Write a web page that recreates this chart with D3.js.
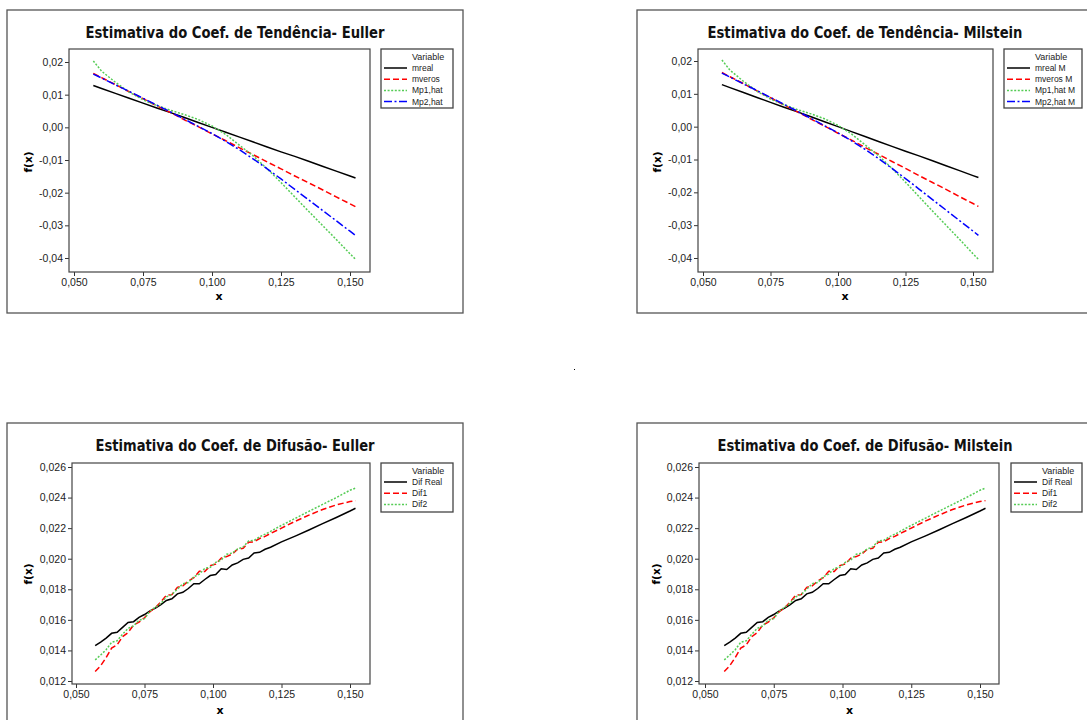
<!doctype html>
<head>
  <script src="https://cdnjs.cloudflare.com/ajax/libs/d3/7.8.5/d3.min.js"></script>
  <style>
    body { margin: 0; background: #fff; }
    svg { display: block; }
    .tick text { font-family: "Liberation Sans", Arial, sans-serif; font-size: 10.5px; fill: #222; }
    .tick line { stroke: #333; }
  </style>
</head>
<body>
  <svg width="1087" height="720"></svg>
  <script type="text/javascript">
    // tendency (drift) estimates, same values read for Euller and Milstein panels
    var tendX  = [0.057, 0.060, 0.065, 0.070, 0.075, 0.080, 0.085, 0.090, 0.095, 0.100, 0.105,
                  0.110, 0.115, 0.120, 0.125, 0.130, 0.135, 0.140, 0.145, 0.150, 0.152]
    var mreal  = [0.0128, 0.0119, 0.0104, 0.0089, 0.0074, 0.0059, 0.0045, 0.0030, 0.0015, 0.0000, -0.0015,
                  -0.0030, -0.0045, -0.0060, -0.0075, -0.0089, -0.0104, -0.0119, -0.0134, -0.0149, -0.0155]
    var mveros = [0.0165, 0.0152, 0.0131, 0.0109, 0.0088, 0.0066, 0.0045, 0.0023, 0.0002, -0.0020, -0.0041,
                  -0.0063, -0.0084, -0.0106, -0.0127, -0.0149, -0.0170, -0.0191, -0.0213, -0.0234, -0.0243]
    var mp1hat = [0.0203, 0.0172, 0.0138, 0.0108, 0.0084, 0.0067, 0.0052, 0.0039, 0.0024, 0.0004, -0.0022,
                  -0.0055, -0.0088, -0.0127, -0.0169, -0.0213, -0.0257, -0.0300, -0.0343, -0.0387, -0.0404]
    var mp2hat = [0.0163, 0.0151, 0.0130, 0.0110, 0.0089, 0.0068, 0.0047, 0.0025, 0.0003, -0.0019, -0.0043,
                  -0.0069, -0.0097, -0.0127, -0.0158, -0.0190, -0.0222, -0.0254, -0.0286, -0.0318, -0.0331]

    // diffusion estimates (noisy in the middle)
    var difX = [0.057, 0.059, 0.061, 0.063, 0.065, 0.067, 0.069, 0.071, 0.073, 0.075, 0.077, 0.079, 0.081,
                0.083, 0.085, 0.087, 0.089, 0.091, 0.093, 0.095, 0.097, 0.099, 0.101, 0.103, 0.105, 0.107,
                0.109, 0.111, 0.113, 0.115, 0.117, 0.119, 0.121, 0.125, 0.130, 0.135, 0.140, 0.145, 0.150, 0.152]
    var difReal = [0.01432, 0.01455, 0.01481, 0.01512, 0.01519, 0.01551, 0.01583, 0.01588, 0.01616, 0.01635,
                   0.01659, 0.01677, 0.01700, 0.01727, 0.01738, 0.01770, 0.01780, 0.01805, 0.01836, 0.01836,
                   0.01864, 0.01890, 0.01896, 0.01934, 0.01929, 0.01959, 0.01973, 0.01996, 0.02005, 0.02037,
                   0.02042, 0.02062, 0.02075, 0.02110, 0.02148, 0.02188, 0.02230, 0.02270, 0.02312, 0.02330]
    var dif1 = [0.01262, 0.01300, 0.01353, 0.01415, 0.01436, 0.01490, 0.01517, 0.01566, 0.01585, 0.01614,
                0.01653, 0.01680, 0.01718, 0.01762, 0.01765, 0.01813, 0.01822, 0.01854, 0.01876, 0.01918,
                0.01916, 0.01955, 0.01965, 0.02004, 0.02014, 0.02030, 0.02062, 0.02068, 0.02108, 0.02110,
                0.02132, 0.02146, 0.02165, 0.02200, 0.02245, 0.02285, 0.02322, 0.02352, 0.02374, 0.02380]
    var dif2 = [0.01338, 0.01370, 0.01405, 0.01453, 0.01463, 0.01506, 0.01544, 0.01560, 0.01598, 0.01608,
                0.01658, 0.01683, 0.01708, 0.01750, 0.01766, 0.01801, 0.01836, 0.01844, 0.01882, 0.01899,
                0.01937, 0.01944, 0.01976, 0.01991, 0.02029, 0.02037, 0.02064, 0.02077, 0.02116, 0.02120,
                0.02143, 0.02160, 0.02179, 0.02218, 0.02264, 0.02310, 0.02355, 0.02400, 0.02448, 0.02462]

    var xTicks = [0.050, 0.075, 0.100, 0.125, 0.150]
    var tendTicks = [0.02, 0.01, 0.00, -0.01, -0.02, -0.03, -0.04]
    var difTicks = [0.026, 0.024, 0.022, 0.020, 0.018, 0.016, 0.014, 0.012]

    var tendNamesE = ["mreal", "mveros", "Mp1,hat", "Mp2,hat"]
    var tendNamesM = ["mreal M", "mveros M", "Mp1,hat M", "Mp2,hat M"]
    var difNames = ["Dif Real", "Dif1", "Dif2"]

    var styles = [
      {color: "#000000", dash: null},
      {color: "#ff0000", dash: "6,3"},
      {color: "#55cc55", dash: "2,1.6"},
      {color: "#0000ff", dash: "8,2.5,2,2.5"}
    ]
    var difStyles = [styles[0], styles[1], styles[2]]

    var panels = [
      {box: [7, 10, 456, 303], plot: [69, 49, 370, 272], xr: [74, 350], yd: [0.02, -0.04], yr: [62, 258],
       fmt: ".2f", yTicks: tendTicks, title: "Estimativa do Coef. de Tendência- Euller", tx: 235, ty: 38, tw: 299,
       leg: [381, 49, 453, 108], names: tendNamesE, st: styles, xs: tendX, ys: [mreal, mveros, mp1hat, mp2hat],
       fx: 28, fy: 162, xlY: 300},
      {box: [637, 10, 452, 303], plot: [698, 49, 993, 272], xr: [703, 973], yd: [0.02, -0.04], yr: [61, 258],
       fmt: ".2f", yTicks: tendTicks, title: "Estimativa do Coef. de Tendência- Milstein", tx: 865, ty: 38, tw: 315,
       leg: [1004, 49, 1082, 108], names: tendNamesM, st: styles, xs: tendX, ys: [mreal, mveros, mp1hat, mp2hat],
       fx: 657, fy: 162, xlY: 300},
      {box: [7, 423, 456, 310], plot: [72, 463, 370, 684], xr: [76, 350], yd: [0.026, 0.012], yr: [467, 681],
       fmt: ".3f", yTicks: difTicks, title: "Estimativa do Coef. de Difusão- Euller", tx: 235, ty: 451, tw: 279,
       leg: [381, 463, 453, 512], names: difNames, st: difStyles, xs: difX, ys: [difReal, dif1, dif2],
       fx: 28, fy: 574, xlY: 714},
      {box: [637, 423, 452, 310], plot: [699, 463, 999, 684], xr: [705, 980], yd: [0.026, 0.012], yr: [467, 681],
       fmt: ".3f", yTicks: difTicks, title: "Estimativa do Coef. de Difusão- Milstein", tx: 865, ty: 451, tw: 295,
       leg: [1011, 463, 1082, 512], names: difNames, st: difStyles, xs: difX, ys: [difReal, dif1, dif2],
       fx: 656, fy: 574, xlY: 714}
    ]

    var svg = d3.select("svg")

    function comma(f) {
      var fm = d3.format(f)
      return d => fm(d).replace("\u2212", "-").replace(".", ",")
    }

    panels.forEach(p => {
      var g = svg.append("g")
      g.append("rect")
        .attr("x", p.box[0]).attr("y", p.box[1]).attr("width", p.box[2]).attr("height", p.box[3])
        .style("fill", "none").style("stroke", "#555").style("stroke-width", "1.3px")

      var x = d3.scaleLinear().domain([0.05, 0.15]).range(p.xr)
      var y = d3.scaleLinear().domain(p.yd).range(p.yr)

      g.append("text").text(p.title)
        .attr("x", p.tx).attr("y", p.ty).attr("text-anchor", "middle")
        .attr("textLength", p.tw).attr("lengthAdjust", "spacingAndGlyphs")
        .style("font-family", "'DejaVu Sans', Verdana, sans-serif").style("font-weight", "bold")
        .style("font-size", "15px").style("fill", "#111")

      var ax = g.append("g").attr("transform", "translate(0," + p.plot[3] + ")")
        .call(d3.axisBottom(x).tickValues(xTicks).tickSize(4).tickPadding(3).tickFormat(comma(".3f")))
      ax.select(".domain").remove()
      var ay = g.append("g").attr("transform", "translate(" + p.plot[0] + ",0)")
        .call(d3.axisLeft(y).tickValues(p.yTicks).tickSize(4).tickPadding(2).tickFormat(comma(p.fmt)))
      ay.select(".domain").remove()

      g.append("rect")
        .attr("x", p.plot[0]).attr("y", p.plot[1])
        .attr("width", p.plot[2] - p.plot[0]).attr("height", p.plot[3] - p.plot[1])
        .style("fill", "none").style("stroke", "#444").style("stroke-width", "1.2px")

      g.append("text").text("x")
        .attr("x", (p.xr[0] + p.xr[1]) / 2 + 7).attr("y", p.xlY).attr("text-anchor", "middle")
        .style("font-family", "'DejaVu Sans', sans-serif").style("font-weight", "bold").style("font-size", "11px")
      g.append("text").text("f(x)")
        .attr("transform", "translate(" + (p.fx + 4) + "," + p.fy + ") rotate(-90)").attr("text-anchor", "middle")
        .style("font-family", "'DejaVu Sans', sans-serif").style("font-weight", "bold").style("font-size", "10.5px")

      var line = d3.line().x(d => x(d[0])).y(d => y(d[1]))
      p.ys.forEach((ser, i) => {
        g.append("path")
          .datum(p.xs.map((v, k) => [v, ser[k]]))
          .attr("d", line)
          .style("fill", "none")
          .style("stroke", p.st[i].color)
          .style("stroke-width", "1.5px")
          .style("stroke-dasharray", p.st[i].dash)
      })

      var L = p.leg
      var lg = g.append("g")
      lg.append("rect").attr("x", L[0]).attr("y", L[1]).attr("width", L[2] - L[0]).attr("height", L[3] - L[1])
        .style("fill", "#fff").style("stroke", "#444").style("stroke-width", "1.3px")
      lg.append("text").text("Variable").attr("x", L[0] + 31).attr("y", L[1] + 11)
        .style("font-family", "'Liberation Sans', Arial, sans-serif").style("font-size", "9px").style("fill", "#222")
      p.names.forEach((n, i) => {
        var ry = L[1] + 19 + i * 11.2
        lg.append("line").attr("x1", L[0] + 3).attr("x2", L[0] + 26).attr("y1", ry).attr("y2", ry)
          .style("stroke", p.st[i].color).style("stroke-width", "1.5px").style("stroke-dasharray", p.st[i].dash)
        lg.append("text").text(n).attr("x", L[0] + 31).attr("y", ry + 3)
          .style("font-family", "'Liberation Sans', Arial, sans-serif").style("font-size", "8.5px").style("fill", "#222")
      })
    })

    svg.append("rect").attr("x", 574).attr("y", 369).attr("width", 1).attr("height", 1).style("fill", "#000")
  </script>
</body>
</html>
